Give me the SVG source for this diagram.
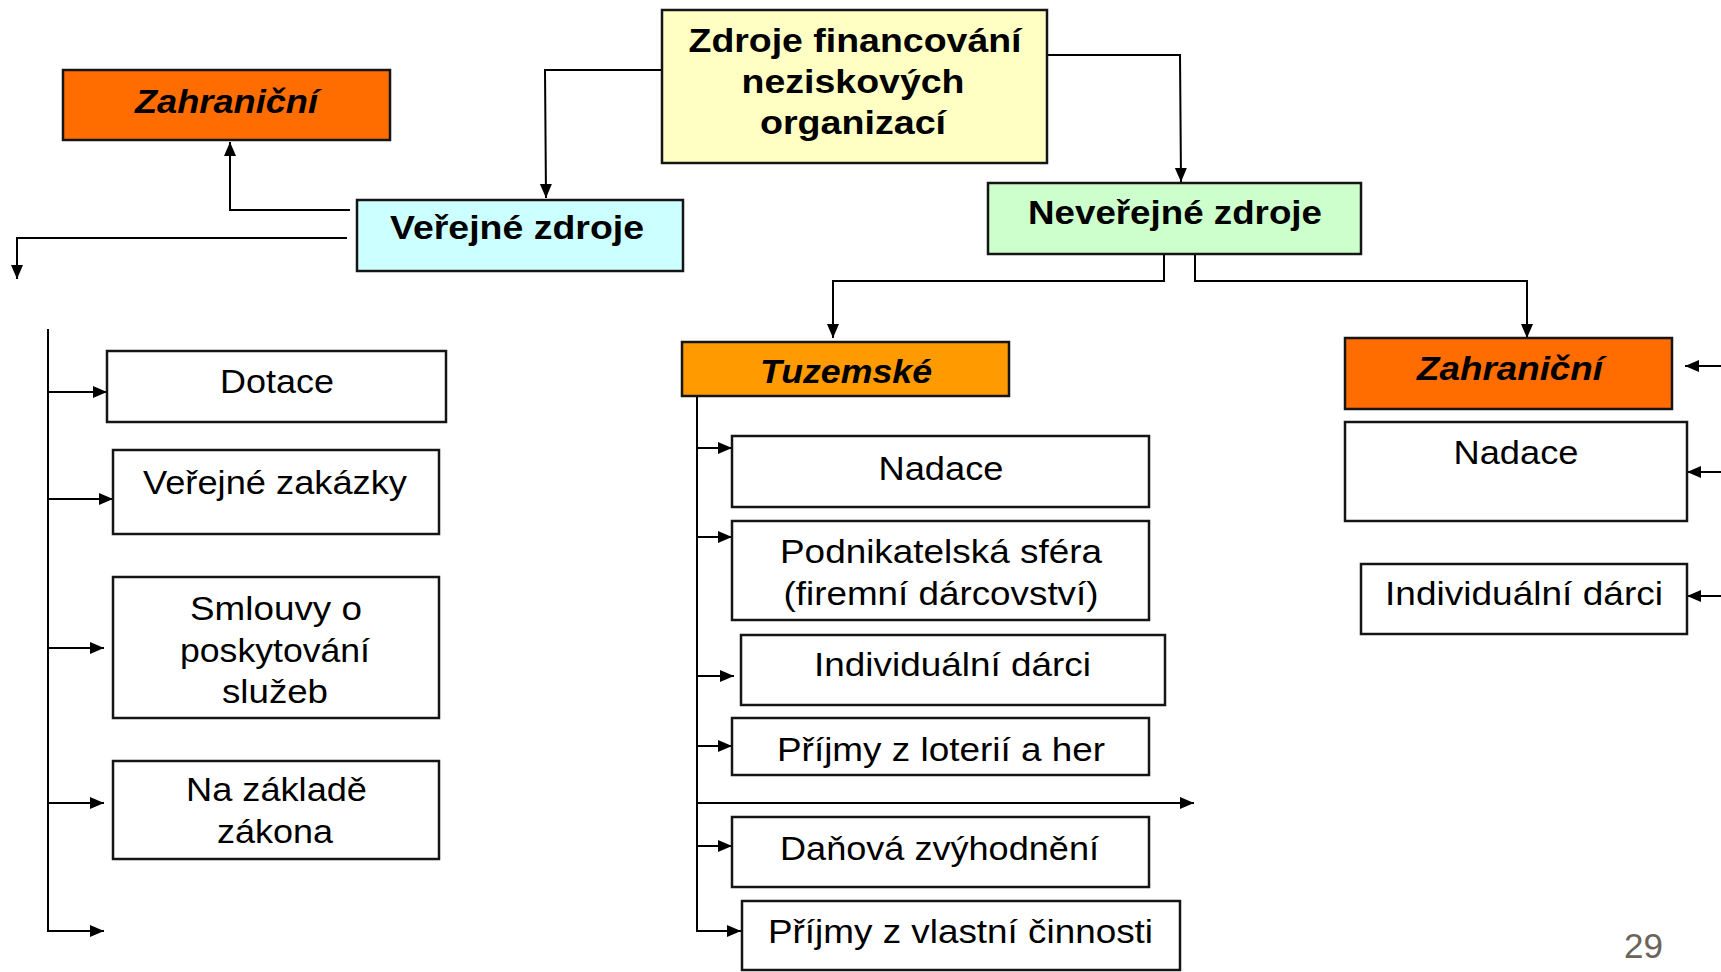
<svg xmlns="http://www.w3.org/2000/svg" width="1721" height="972" viewBox="0 0 1721 972">
<defs>
<marker id="ah" markerUnits="userSpaceOnUse" markerWidth="15" markerHeight="13" refX="14" refY="6" orient="auto">
<path d="M0,0 L14,6 L0,12 z" fill="#000"/>
</marker>
<style>
.box{stroke:#151515;stroke-width:2.5}
.w{fill:#fff}
.top{fill:#FFFFC4}
.pub{fill:#CCFFFF}
.npub{fill:#CCFFCC}
.zah{fill:#FF6C00}
.tuz{fill:#FF9A00}
.b{font-family:"Liberation Sans",Arial,sans-serif;font-weight:bold;fill:#000;text-anchor:middle}
.bi{font-family:"Liberation Sans",Arial,sans-serif;font-weight:bold;font-style:italic;fill:#000;text-anchor:middle;font-size:34px}
.r{font-family:"Liberation Sans",Arial,sans-serif;fill:#000;text-anchor:middle;font-size:33px}
.c{fill:none;stroke:#000;stroke-width:2}
.a{fill:none;stroke:#000;stroke-width:2;marker-end:url(#ah)}
</style>
</defs>
<rect width="1721" height="972" fill="#fff"/>

<g id="connectors">
<polyline class="a" points="662,70 545,70 546,198"/>
<polyline class="a" points="1047,55 1180,55 1181,182"/>
<polyline class="a" points="350,210 230,210 230,142"/>
<polyline class="a" points="347,238 17,238 17,279"/>
<line class="c" x1="48" y1="329" x2="48" y2="931"/>
<line class="a" x1="48" y1="392" x2="107" y2="392"/>
<line class="a" x1="48" y1="499" x2="113" y2="499"/>
<line class="a" x1="48" y1="648" x2="104" y2="648"/>
<line class="a" x1="48" y1="803" x2="104" y2="803"/>
<line class="a" x1="47" y1="931" x2="104" y2="931"/>
<polyline class="a" points="1164,254 1164,281 833,281 833,338"/>
<polyline class="a" points="1195,254 1195,281 1527,281 1527,338"/>
<line class="c" x1="697" y1="396" x2="697" y2="931"/>
<line class="a" x1="697" y1="448" x2="732" y2="448"/>
<line class="a" x1="697" y1="537" x2="732" y2="537"/>
<line class="a" x1="697" y1="676" x2="734" y2="676"/>
<line class="a" x1="697" y1="746" x2="732" y2="746"/>
<line class="a" x1="697" y1="803" x2="1194" y2="803"/>
<line class="a" x1="697" y1="846" x2="732" y2="846"/>
<line class="a" x1="696" y1="931" x2="741" y2="931"/>
<line class="a" x1="1721" y1="366" x2="1685" y2="366"/>
<line class="a" x1="1721" y1="472" x2="1687" y2="472"/>
<line class="a" x1="1721" y1="596" x2="1687" y2="596"/>
</g>

<g id="n-root">
<rect class="box top" x="662" y="10" width="385" height="153"/>
<text class="b" font-size="33" x="855" y="52" textLength="333" lengthAdjust="spacingAndGlyphs">Zdroje financování</text>
<text class="b" font-size="33" x="853" y="93" textLength="223" lengthAdjust="spacingAndGlyphs">neziskových</text>
<text class="b" font-size="33" x="853" y="134" textLength="186" lengthAdjust="spacingAndGlyphs">organizací</text>
</g>

<g id="n-zahr-left">
<rect class="box zah" x="63" y="70" width="327" height="70"/>
<text class="bi" x="226.5" y="113" textLength="183" lengthAdjust="spacingAndGlyphs">Zahraniční</text>
</g>

<g id="n-verejne">
<rect class="box pub" x="357" y="200" width="326" height="71"/>
<text class="b" font-size="34" x="517" y="239" textLength="254" lengthAdjust="spacingAndGlyphs">Veřejné zdroje</text>
</g>

<g id="n-neverejne">
<rect class="box npub" x="988" y="183" width="373" height="71"/>
<text class="b" font-size="34" x="1175" y="224" textLength="294" lengthAdjust="spacingAndGlyphs">Neveřejné zdroje</text>
</g>

<g id="n-tuzemske">
<rect class="box tuz" x="682" y="342" width="327" height="54"/>
<text class="bi" font-size="33" x="846" y="383" textLength="172" lengthAdjust="spacingAndGlyphs">Tuzemské</text>
</g>

<g id="n-zahr-right">
<rect class="box zah" x="1345" y="338" width="327" height="71"/>
<text class="bi" x="1510" y="380" textLength="186" lengthAdjust="spacingAndGlyphs">Zahraniční</text>
</g>

<g id="n-dotace">
<rect class="box w" x="107" y="351" width="339" height="71"/>
<text class="r" x="277" y="393" textLength="114" lengthAdjust="spacingAndGlyphs">Dotace</text>
</g>
<g id="n-zakazky">
<rect class="box w" x="113" y="450" width="326" height="84"/>
<text class="r" x="275" y="494" textLength="264" lengthAdjust="spacingAndGlyphs">Veřejné zakázky</text>
</g>
<g id="n-smlouvy">
<rect class="box w" x="113" y="577" width="326" height="141"/>
<text class="r" x="276" y="620" textLength="172" lengthAdjust="spacingAndGlyphs">Smlouvy o</text>
<text class="r" x="275" y="662" textLength="190" lengthAdjust="spacingAndGlyphs">poskytování</text>
<text class="r" x="275" y="703" textLength="106" lengthAdjust="spacingAndGlyphs">služeb</text>
</g>
<g id="n-zakon">
<rect class="box w" x="113" y="761" width="326" height="98"/>
<text class="r" x="276.5" y="801" textLength="181" lengthAdjust="spacingAndGlyphs">Na základě</text>
<text class="r" x="275" y="843" textLength="116" lengthAdjust="spacingAndGlyphs">zákona</text>
</g>

<g id="n-nadace-tuz">
<rect class="box w" x="732" y="436" width="417" height="71"/>
<text class="r" x="941" y="480" textLength="125" lengthAdjust="spacingAndGlyphs">Nadace</text>
</g>
<g id="n-podnik">
<rect class="box w" x="732" y="521" width="417" height="99"/>
<text class="r" x="941" y="563" textLength="322" lengthAdjust="spacingAndGlyphs">Podnikatelská sféra</text>
<text class="r" x="941" y="605" textLength="315" lengthAdjust="spacingAndGlyphs">(firemní dárcovství)</text>
</g>
<g id="n-indiv-tuz">
<rect class="box w" x="741" y="635" width="424" height="70"/>
<text class="r" x="952.5" y="676" textLength="277" lengthAdjust="spacingAndGlyphs">Individuální dárci</text>
</g>
<g id="n-loterie">
<rect class="box w" x="732" y="718" width="417" height="57"/>
<text class="r" x="941" y="761" textLength="328" lengthAdjust="spacingAndGlyphs">Příjmy z loterií a her</text>
</g>
<g id="n-danova">
<rect class="box w" x="732" y="817" width="417" height="70"/>
<text class="r" x="939.5" y="860" textLength="319" lengthAdjust="spacingAndGlyphs">Daňová zvýhodnění</text>
</g>
<g id="n-vlastni">
<rect class="box w" x="742" y="901" width="438" height="69"/>
<text class="r" x="960.5" y="943" textLength="385" lengthAdjust="spacingAndGlyphs">Příjmy z vlastní činnosti</text>
</g>

<g id="n-nadace-zahr">
<rect class="box w" x="1345" y="422" width="342" height="99"/>
<text class="r" x="1516" y="464" textLength="125" lengthAdjust="spacingAndGlyphs">Nadace</text>
</g>
<g id="n-indiv-zahr">
<rect class="box w" x="1361" y="564" width="326" height="70"/>
<text class="r" x="1524" y="605" textLength="278" lengthAdjust="spacingAndGlyphs">Individuální dárci</text>
</g>

<g id="page-number">
<text x="1643.5" y="958" font-family="Liberation Sans,Arial,sans-serif" font-size="35" fill="#6B645A" text-anchor="middle" textLength="39" lengthAdjust="spacingAndGlyphs">29</text>
</g>
</svg>
